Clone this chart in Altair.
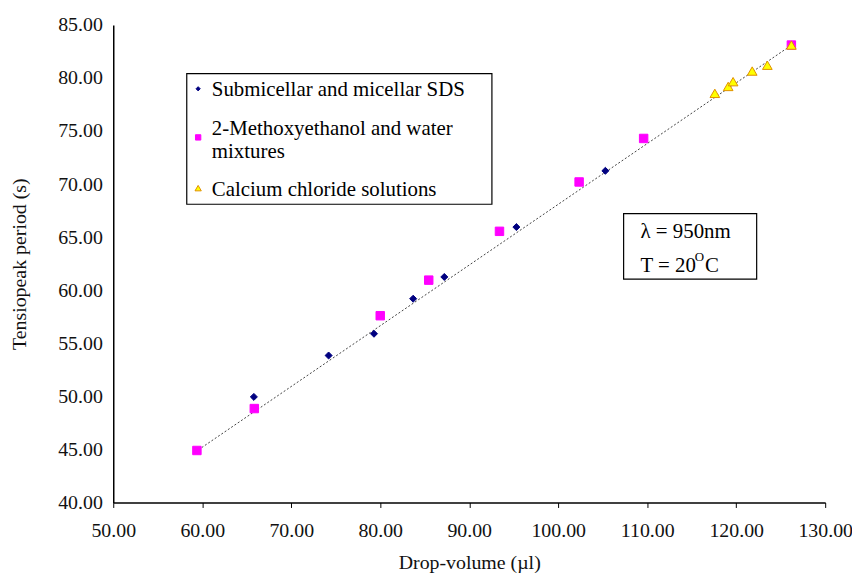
import altair as alt
import pandas as pd

series_names = ["Submicellar and micellar SDS",
                "2-Methoxyethanol and water mixtures",
                "Calcium chloride solutions"]

sds_x = [65.8, 74.2, 79.3, 83.7, 87.2, 95.3, 105.3]
sds_y = [49.95, 53.85, 55.9, 59.2, 61.25, 65.95, 71.25]

meo_x = [59.4, 65.85, 80.0, 85.45, 93.4, 102.35, 109.6, 126.2]
meo_y = [44.9, 48.85, 57.6, 60.95, 65.55, 70.2, 74.3, 83.1]

cacl_x = [117.6, 119.1, 119.65, 121.8, 123.5, 126.2]
cacl_y = [78.55, 79.2, 79.65, 80.65, 81.2, 83.1]

fit_x = [59.2, 126.4]
fit_y = [44.75, 83.2]

x_ticks = [50, 60, 70, 80, 90, 100, 110, 120, 130]
y_ticks = [40, 45, 50, 55, 60, 65, 70, 75, 80, 85]

fill_colors = ["#000080", "#FF00FF", "#FFFF00"]
stroke_colors = ["#000080", "#FF00FF", "#E09000"]
shapes = ["diamond", "square", "triangle-up"]

rows = []
for k, (xs, ys) in enumerate([(sds_x, sds_y), (meo_x, meo_y), (cacl_x, cacl_y)]):
    for xv, yv in zip(xs, ys):
        rows.append({"series": series_names[k], "x": xv, "y": yv, "order": k})
pts = pd.DataFrame(rows)
fit = pd.DataFrame({"x": fit_x, "y": fit_y})

FONT = "Liberation Serif"
FS = 20
FS_TXT = 21

xscale = alt.Scale(domain=[50, 130], nice=False, zero=False)
yscale = alt.Scale(domain=[40, 85], nice=False, zero=False)

xenc = alt.X("x:Q", scale=xscale,
             axis=alt.Axis(title="Drop-volume (µl)", values=x_ticks, format=".2f"))
yenc = alt.Y("y:Q", scale=yscale,
             axis=alt.Axis(title="Tensiopeak period (s)", values=y_ticks, format=".2f"))

fill_scale = alt.Scale(domain=series_names, range=fill_colors)
stroke_scale = alt.Scale(domain=series_names, range=stroke_colors)
shape_scale = alt.Scale(domain=series_names, range=shapes)

line = alt.Chart(fit).mark_line(color="#444444", strokeWidth=1, strokeDash=[2, 2]).encode(
    x=xenc, y=yenc)

points = alt.Chart(pts).mark_point(opacity=1, strokeWidth=1).encode(
    x="x:Q", y="y:Q",
    fill=alt.Fill("series:N", scale=fill_scale, legend=None),
    stroke=alt.Stroke("series:N", scale=stroke_scale, legend=None),
    shape=alt.Shape("series:N", scale=shape_scale, legend=None),
    size=alt.Size("series:N", scale=alt.Scale(domain=series_names, range=[50, 95, 70]),
                  legend=None),
    order=alt.Order("order:Q"),
)

# ---- legend (drawn in data coordinates) ----
leg_box = alt.Chart(pd.DataFrame({"x": [58.26], "x2": [92.55], "y": [80.41], "y2": [68.1]})).mark_rect(
    fill="white", stroke="black", strokeWidth=1.2).encode(
    x="x:Q", x2="x2:Q", y="y:Q", y2="y2:Q")

leg_sym_y = [78.98, 74.4, 69.62]
leg_sym = alt.Chart(pd.DataFrame({"series": series_names,
                                  "x": [59.54] * 3, "y": leg_sym_y})).mark_point(
    opacity=1, strokeWidth=1).encode(
    x="x:Q", y="y:Q",
    fill=alt.Fill("series:N", scale=fill_scale, legend=None),
    stroke=alt.Stroke("series:N", scale=stroke_scale, legend=None),
    shape=alt.Shape("series:N", scale=shape_scale, legend=None),
    size=alt.Size("series:N", scale=alt.Scale(domain=series_names, range=[18, 40, 28]),
                  legend=None),
)

leg_lines = ["Submicellar and micellar SDS", "2-Methoxyethanol and water",
             "mixtures", "Calcium chloride solutions"]
leg_text_y = [78.89, 75.17, 73.02, 69.46]
leg_text = alt.Chart(pd.DataFrame({"t": leg_lines, "x": [61.08] * 4, "y": leg_text_y})).mark_text(
    align="left", baseline="middle", font=FONT, fontSize=FS_TXT, color="black").encode(
    x="x:Q", y="y:Q", text="t:N")

# ---- annotation box ----
box = alt.Chart(pd.DataFrame({"x": [107.35], "x2": [122.3], "y": [67.22], "y2": [61.05]})).mark_rect(
    fill="white", stroke="black", strokeWidth=1.2).encode(
    x="x:Q", x2="x2:Q", y="y:Q", y2="y2:Q")

ann_text = ["λ = 950nm", "T = 20"]
ann = alt.Chart(pd.DataFrame({"t": ann_text, "x": [109.25, 109.25], "y": [65.44, 62.26]})).mark_text(
    align="left", baseline="middle", font=FONT, fontSize=FS_TXT, color="black").encode(
    x="x:Q", y="y:Q", text="t:N")

sup = alt.Chart(pd.DataFrame({"t": ["O"], "x": [115.35], "y": [63.15]})).mark_text(
    align="left", baseline="middle", font=FONT, fontSize=13, color="black").encode(
    x="x:Q", y="y:Q", text="t:N")
cdeg = alt.Chart(pd.DataFrame({"t": ["C"], "x": [116.5], "y": [62.26]})).mark_text(
    align="left", baseline="middle", font=FONT, fontSize=FS_TXT, color="black").encode(
    x="x:Q", y="y:Q", text="t:N")

chart = alt.layer(line, points, leg_box, leg_sym, leg_text, box, ann, sup, cdeg).resolve_scale(
    size="independent"
).properties(
    width=717, height=481,
    autosize=alt.AutoSizeParams(type="none"),
    padding={"left": 106, "top": 15, "right": 27, "bottom": 70},
    background="white",
).configure_view(strokeWidth=0).configure_axis(
    grid=False, domainColor="black", domainWidth=1.5, tickColor="black", tickSize=5,
    labelFont=FONT, labelFontSize=FS, labelColor="#111111", labelFlush=False,
    titleFont=FONT, titleFontSize=FS, titleFontWeight="normal", titleColor="#111111",
).configure_axisX(labelPadding=13, titlePadding=12).configure_axisY(
    ticks=False, labelPadding=11, titlePadding=28
)

chart.save("out.html", embed_options={"renderer": "svg", "actions": False})
